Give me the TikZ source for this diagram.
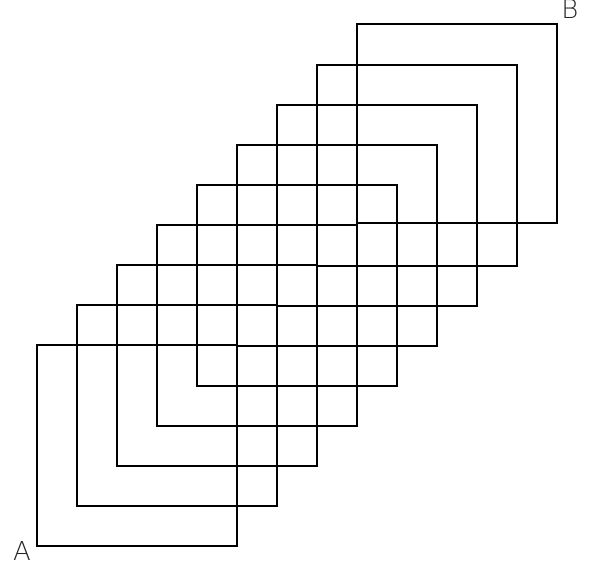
\documentclass[tikz,border=0pt]{standalone}
\usepackage{fontspec}
\newfontfamily\lblfont{DejaVu Sans ExtraLight}
\tikzset{sq/.style={draw=black,line width=2pt},
  lbl/.style={font=\lblfont\fontsize{26}{26}\selectfont,inner sep=0pt,text=black!85}}
\begin{document}
\begin{tikzpicture}[x=1pt,y=-1pt]
\useasboundingbox (0,0) rectangle (591,563);
\foreach \k in {0,...,7}{
  \draw[sq] ({37+40*\k},{345.3-40*\k}) rectangle ({237+40*\k},{545.5-40*\k});
}
\draw[sq] (357,23.6) rectangle (557,223.4);
\node[lbl,anchor=base] (A) at (22,560) {A};
\node[lbl,anchor=base] (B) at (570,18) {B};
\end{tikzpicture}
\end{document}
